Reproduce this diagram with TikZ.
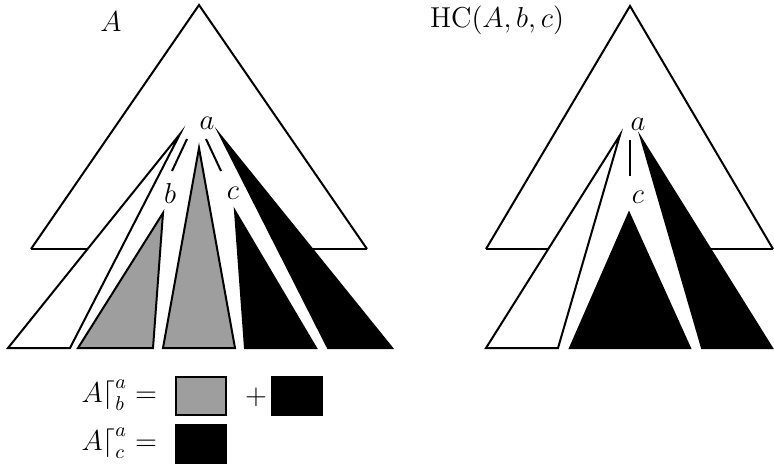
\documentclass[tikz,border=0pt]{standalone}
\usetikzlibrary{calc}
\begin{document}
\begin{tikzpicture}[x=0.5pt,y=-0.5pt, line width=1pt, line join=miter,
  tri/.style={draw=black, line join=miter},
  wtree/.style={tri, fill=white},
  gtree/.style={tri, fill=black!38},
  btree/.style={tri, fill=black},
  lbl/.style={inner sep=0pt, font=\Large},
  ttl/.style={inner sep=0pt, font=\Large},
  leg/.style={inner sep=0pt, font=\Large, anchor=base east},
  box/.style={draw=black, inner sep=0pt, minimum width=25pt, minimum height=19pt}]
\useasboundingbox (0,0) rectangle (774,470);
% ---------- left picture ----------
\draw (31,249) -- (199,5) -- (367,249);
\draw (31,249) -- (88,249);
\draw (312,249) -- (367,249);
\draw[wtree] (180,134) -- (8,348) -- (70,348) -- cycle;
\draw[gtree] (163,213) -- (78,348) -- (153,348) -- cycle;
\draw[gtree] (199,148) -- (163,348) -- (235,348) -- cycle;
\draw[btree] (235,211) -- (245,348) -- (316,348) -- cycle;
\draw[btree] (220,135) -- (328,348) -- (392,348) -- cycle;
\node[ttl] (A) at (111,22) {$A$};
\node[lbl] (a1) at (207,123) {$a$};
\node[lbl] (b1) at (170,193) {$b$};
\node[lbl] (c1) at (233,193) {$c$};
\draw ($(a1)+(-20,16)$) -- ($(b1)+(2,-22)$);
\draw ($(a1)+(-1,16)$) -- ($(c1)+(-12,-22)$);
% ---------- right picture ----------
\draw (486,249) -- (630,6) -- (773,249);
\draw (486,249) -- (549,249);
\draw (711,249) -- (773,249);
\draw[wtree] (620,135) -- (486,348) -- (558,348) -- cycle;
\draw[btree] (629,213) -- (570,348) -- (690,348) -- cycle;
\draw[btree] (641,138) -- (702,348) -- (772,348) -- cycle;
\node[ttl] (HC) at (497,20) {$\mathrm{HC}(A,b,c)$};
\node[lbl] (a2) at (638,124) {$a$};
\node[lbl] (c2) at (638,197) {$c$};
\draw ($(a2)+(-8,16)$) -- ($(c2)+(-8,-21)$);
% ---------- legend ----------
\node[leg] (L1) at (158,402) {$A{\lceil}^a_b =$};
\node[leg] (L2) at (158,450) {$A{\lceil}^a_c =$};
\node[box, fill=black!38] (g1) at (201,396) {};
\node[inner sep=0pt, font=\Large] (plus) at (256,397) {$+$};
\node[box, fill=black] (k1) at (297,396) {};
\node[box, fill=black] (k2) at (201,444) {};
\end{tikzpicture}
\end{document}
